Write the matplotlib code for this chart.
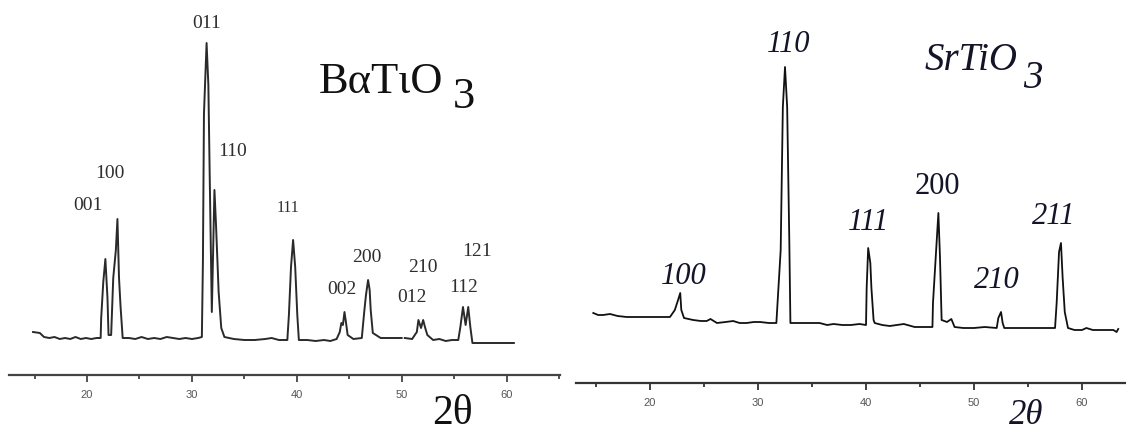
import numpy as np
import matplotlib
matplotlib.use("Agg")
import matplotlib.pyplot as plt
from matplotlib.ticker import MultipleLocator

plt.rcParams['font.family'] = ['Liberation Serif', 'DejaVu Serif']

nan = np.nan

# BaTiO3 pattern (2theta, intensity a.u.)
bto_2theta = [14.85, 15.5, 15.9, 16.4, 16.9, 17.4, 17.9, 18.4, 18.9, 19.4, 19.9, 20.4, 20.9,
              21.30, 21.35, 21.55, 21.75, 21.95, 22.05,
              22.30, 22.50, 22.75, 22.90, 23.05, 23.20, 23.40,
              24.0, 24.6, 25.2, 25.8, 26.4, 27.0, 27.6, 28.2, 28.8, 29.4, 30.0, 30.6,
              30.95, 31.05, 31.15, 31.40, 31.57, 31.70, 31.90, 32.15, 32.30, 32.55, 32.80, 33.1,
              34.0, 35.0, 36.0, 37.0, 37.6, 38.3, 39.1,
              39.25, 39.45, 39.65, 39.85, 40.05, 40.2,
              41.0, 41.8, 42.6, 43.2, 43.8,
              44.10, 44.25, 44.40, 44.55, 44.70, 44.85,
              45.4, 46.2,
              46.45, 46.60, 46.80, 46.95, 47.05, 47.25,
              48.0, 49.0, 50.0, nan, 50.3, 51.0,
              51.45, 51.60, 51.85, 52.05, 52.25, 52.45,
              53.0, 53.6, 54.2, 54.8, 55.4,
              55.60, 55.85, 56.10, 56.35, 56.55, 56.75,
              57.5, 58.5, 59.5, 60.7]
bto_int = [43, 42, 38, 37, 38, 36, 37, 36, 38, 36, 37, 36, 37,
           37, 57, 93, 116, 77, 40,
           40, 97, 125, 156, 97, 68, 37,
           37, 36, 38, 36, 37, 36, 38, 37, 36, 37, 36, 37,
           38, 113, 261, 332, 290, 198, 63, 185, 150, 83, 47, 38,
           36, 35, 35, 36, 37, 35, 35,
           60, 108, 135, 108, 60, 35,
           35, 34, 35, 34, 36,
           43, 52, 50, 63, 52, 40,
           36, 37,
           65, 80, 95, 85, 65, 42,
           37, 37, 37, nan, 37, 36,
           43, 55, 47, 55, 47, 40,
           35, 36, 34, 35, 35,
           48, 68, 50, 68, 48, 32,
           32, 32, 32, 32]
bto_labels = ["011", "110", "100", "001", "111", "002", "200", "210", "012", "121", "112"]
bto_label_x = [31.36, 33.84, 22.19, 20.1, 39.18, 44.33, 46.72, 52.06, 51.01, 57.21, 55.88]
bto_label_y = [351, 223, 202, 170, 167, 85, 118, 107, 78, 123, 87]

# SrTiO3 pattern
sto_2theta = [14.75, 15.2, 15.65, 16.3, 17.0, 17.85, 19.0, 20.5, 21.85,
              22.3, 22.6, 22.8, 22.9, 23.15,
              24.0, 24.7, 25.25, 25.6, 26.2, 27.0, 27.7, 28.3, 28.95, 29.6, 30.2, 31.0, 31.7,
              32.1, 32.3, 32.5, 32.7, 32.9, 33.0,
              34.0, 35.0, 35.7, 36.4, 37.0, 37.8, 38.6, 39.4, 40.0,
              40.06, 40.2, 40.4, 40.5, 40.7, 40.8,
              41.5, 42.2, 42.85, 43.5, 44.5, 45.5, 46.15,
              46.2, 46.45, 46.7, 46.85, 47.0, 47.5, 47.9, 48.2,
              49.0, 50.0, 51.0, 52.1,
              52.25, 52.5, 52.65, 52.8,
              53.5, 54.5, 55.5, 56.5, 57.5,
              57.65, 57.87, 58.05, 58.2, 58.4, 58.7,
              59.3, 60.0, 60.4, 61.0, 62.0, 62.9, 63.2, 63.35]
sto_int = [70, 68, 68, 69, 67, 66, 66, 66, 66,
           73, 83, 90, 73, 65,
           63, 62, 62, 64, 60, 61, 62, 60, 60, 61, 61, 60, 60,
           133, 276, 316, 276, 141, 60,
           60, 60, 60, 58, 59, 58, 58, 59, 58,
           95, 135, 120, 95, 63, 60,
           58, 57, 58, 59, 56, 56, 56,
           80, 125, 170, 125, 63, 61, 64, 56,
           55, 55, 56, 55,
           65, 71, 60, 55,
           55, 55, 55, 55, 55,
           80, 131, 140, 106, 71, 55,
           53, 53, 55, 53, 53, 53, 51, 54]
sto_labels = ["110", "100", "111", "200", "210", "211"]
sto_label_x = [32.87, 23.15, 40.19, 46.57, 52.13, 57.41]
sto_label_y = [338, 107, 161, 197, 102, 167]
sto_label_italic = [True, True, True, False, True, True]

W, H = 1126, 432
fig = plt.figure(figsize=(W / 100, H / 100), dpi=100)

# left panel: BaTiO3
ax1 = fig.add_axes([9 / W, (H - 375) / H, 551 / W, 375 / H])
ax1.plot(bto_2theta, bto_int, color="#2a2a2a", lw=1.4)
ax1.set_xlim(12.56, 65.1)
ax1.set_ylim(0, 375)
for lab, x, y in zip(bto_labels, bto_label_x, bto_label_y):
    fs = 11.5 if lab == "111" else 14
    ax1.text(x, y, lab, fontsize=fs, ha="center", va="center", color="#2e2e2e")
ax1.text(48.05, 293, "BαTιO", fontsize=32, ha="center", va="center", color="#111111")
ax1.text(55.9, 278, "3", fontsize=32, ha="center", va="center", color="#111111")
ax1.text(54.83, -39, "2θ", fontsize=30, ha="center", va="center", color="#111111")

# right panel: SrTiO3
ax2 = fig.add_axes([576 / W, (H - 383) / H, 550 / W, 383 / H])
ax2.plot(sto_2theta, sto_int, color="#111111", lw=1.3)
ax2.set_xlim(13.15, 64.07)
ax2.set_ylim(0, 383)
for lab, x, y, it in zip(sto_labels, sto_label_x, sto_label_y, sto_label_italic):
    ax2.text(x, y, lab, fontsize=22, ha="center", va="center", color="#141428",
             style="italic" if it else "normal")
ax2.text(49.7, 323, "SrTiO", fontsize=28, ha="center", va="center", style="italic", color="#141428")
ax2.text(55.4, 305, "3", fontsize=28, ha="center", va="center", style="italic", color="#141428")
ax2.text(54.81, -33, "2θ", fontsize=25, ha="center", va="center", style="italic", color="#141428")

for ax, col in [(ax1, "#444444"), (ax2, "#333333")]:
    for s in ["left", "right", "top"]:
        ax.spines[s].set_visible(False)
    ax.spines["bottom"].set_color(col)
    ax.spines["bottom"].set_linewidth(1.6)
    ax.set_yticks([])
    ax.xaxis.set_major_locator(MultipleLocator(10))
    ax.xaxis.set_minor_locator(MultipleLocator(5))
    ax.tick_params(axis="x", which="major", length=5, width=1.3, color=col, pad=6,
                   labelsize=8, labelcolor="#555555")
    ax.tick_params(axis="x", which="minor", length=3, width=1.3, color=col)
    for t in ax.get_xticklabels():
        t.set_family(["Liberation Sans", "DejaVu Sans"])
    ax.patch.set_alpha(0)

fig.savefig("out.png", dpi=100)
